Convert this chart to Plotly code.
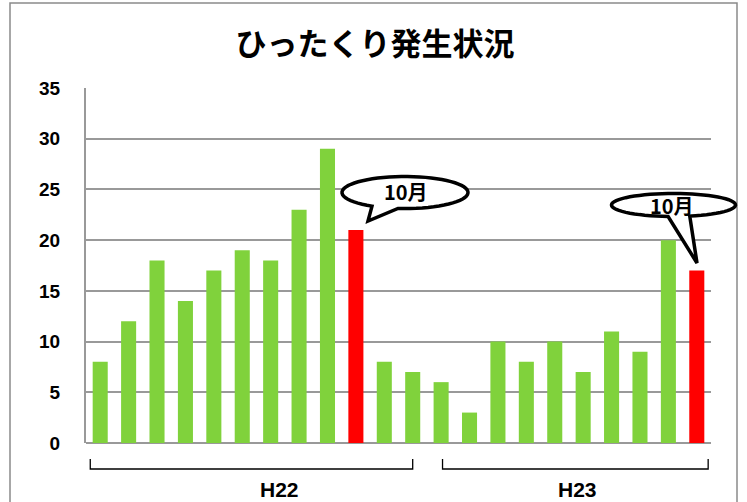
import math
import plotly.graph_objects as go

# ---- data ----
h22_values = [8, 12, 18, 14, 17, 19, 18, 23, 29, 21, 8, 7]
h23_values = [6, 3, 10, 8, 10, 7, 11, 9, 20, 17]
highlight_month = 10  # October highlighted in each year
group_labels = ["H22", "H23"]
callout_text = "10月"
title_text = "ひったくり発生状況"
y_ticks = [0, 5, 10, 15, 20, 25, 30, 35]

values = h22_values + h23_values
xs = list(range(len(values)))
green = "#80D23C"
red = "#FF0000"
colors = []
for i, v in enumerate(h22_values):
    colors.append(red if i + 1 == highlight_month else green)
for i, v in enumerate(h23_values):
    colors.append(red if i + 1 == highlight_month else green)

W, H = 747, 502
ML, MR, MT, MB = 86, 36, 88, 59
PW, PH = W - ML - MR, H - MT - MB

def px(x):
    return (x - ML) / PW

def py(y):
    return (H - MB - y) / PH

def bubble_path(cx, cy, rx, ry, a0, a1, tip):
    pts = []
    n = 60
    for k in range(n + 1):
        a = math.radians(a0 + (a1 - a0) * k / n)
        pts.append((cx + rx * math.cos(a), cy + ry * math.sin(a)))
    pts.append(tip)
    d = "M " + " L ".join(f"{px(x):.5f},{py(y):.5f}" for x, y in pts) + " Z"
    return d

fig = go.Figure()
fig.add_trace(go.Bar(x=xs, y=values, marker=dict(color=colors, line=dict(width=0)),
                     width=0.53, showlegend=False, hoverinfo="y"))

shapes = []
# outer frame
shapes.append(dict(type="rect", xref="paper", yref="paper",
                   x0=px(10), x1=px(737), y0=py(512), y1=py(3),
                   line=dict(color="#8a8a8a", width=1.5), layer="below"))
# brackets under the two years
n22 = len(h22_values)
brackets = [(-0.35, n22 - 1.0), (n22 + 0.05, len(values) - 0.6)]
label_pos = [6.3, 16.8]
for (b0, b1) in brackets:
    shapes.append(dict(type="path", xref="x", yref="paper",
                       path=f"M {b0},{py(459):.5f} L {b0},{py(469):.5f} L {b1},{py(469):.5f} L {b1},{py(459):.5f}",
                       line=dict(color="black", width=1.3)))
# speech bubbles
shapes.append(dict(type="path", xref="paper", yref="paper",
                   path=bubble_path(405, 192.5, 63, 16, 121.6, 456.4, (368, 221)),
                   fillcolor="white", line=dict(color="black", width=3.5), layer="above"))
shapes.append(dict(type="path", xref="paper", yref="paper",
                   path=bubble_path(673.5, 205, 62, 11.5, 95, 434.8, (697, 263)),
                   fillcolor="white", line=dict(color="black", width=3.5), layer="above"))

sans = "Liberation Sans, Arial, sans-serif"
cjk = "Noto Sans CJK JP"
annotations = []
annotations.append(dict(xref="paper", yref="paper", x=px(406), y=py(191), text=callout_text,
                        showarrow=False, xanchor="center", yanchor="middle",
                        font=dict(family=cjk, size=20, color="black", weight="bold")))
annotations.append(dict(xref="paper", yref="paper", x=px(672), y=py(205), text=callout_text,
                        showarrow=False, xanchor="center", yanchor="middle",
                        font=dict(family=cjk, size=20, color="black", weight="bold")))
for lab, lx in zip(group_labels, label_pos):
    annotations.append(dict(xref="x", yref="paper", x=lx, y=py(489), text=lab,
                            showarrow=False, xanchor="center", yanchor="middle",
                            font=dict(family=sans, size=21, color="black", weight="bold")))

fig.update_layout(
    width=W, height=H,
    margin=dict(l=ML, r=MR, t=MT, b=MB),
    paper_bgcolor="white", plot_bgcolor="white",
    title=dict(text=title_text, x=375 / W, xanchor="center", y=1 - 44 / H, yanchor="middle",
               yref="container",
               font=dict(family=cjk, size=31, color="black", weight="bold")),
    xaxis=dict(range=[-0.5, len(values) - 0.5], showticklabels=False, showgrid=False,
               zeroline=False, showline=False, ticks=""),
    yaxis=dict(range=[0, 35], tickvals=y_ticks, showgrid=True, gridcolor="#999999", gridwidth=2,
               zeroline=True, zerolinecolor="#999999", zerolinewidth=2,
               showline=True, linecolor="#999999", linewidth=2, ticks="",
               ticklabelstandoff=20,
               tickfont=dict(family=sans, size=19, color="black", weight="bold")),
    shapes=shapes, annotations=annotations, bargap=0.47,
)

fig.write_html("out.html", config={"displayModeBar": False},
               post_script="document.body.style.margin='0';document.body.style.overflow='hidden';")
